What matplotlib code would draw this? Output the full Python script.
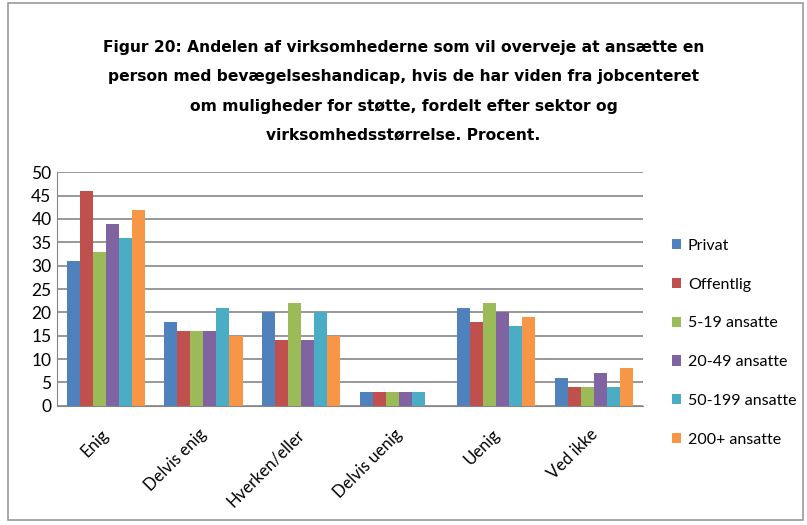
import matplotlib.pyplot as plt
import matplotlib.transforms as mtransforms
import numpy as np
from matplotlib.patches import Rectangle

categories = ["Enig", "Delvis enig", "Hverken/eller", "Delvis uenig", "Uenig", "Ved ikke"]
series_names = ["Privat", "Offentlig", "5-19 ansatte", "20-49 ansatte", "50-199 ansatte", "200+ ansatte"]
privat = [31, 18, 20, 3, 21, 6]
offentlig = [46, 16, 14, 3, 18, 4]
ans_5_19 = [33, 16, 22, 3, 22, 4]
ans_20_49 = [39, 16, 14, 3, 20, 7]
ans_50_199 = [36, 21, 20, 3, 17, 4]
ans_200 = [42, 15, 15, 0, 19, 8]
colors = ["#4F81BD", "#C0504D", "#9BBB59", "#8064A2", "#4BACC6", "#F79646"]

title = ("Figur 20: Andelen af virksomhederne som vil overveje at ansætte en\n"
         "person med bevægelseshandicap, hvis de har viden fra jobcenteret\n"
         "om muligheder for støtte, fordelt efter sektor og\n"
         "virksomhedsstørrelse. Procent.")

plt.rcParams['font.family'] = ['Lato', 'DejaVu Sans']

fig = plt.figure(figsize=(8.07, 5.25), dpi=100)
fig.patches.append(Rectangle((0.01, 0.01), 0.985, 0.985, transform=fig.transFigure,
                             fill=False, edgecolor="#9a9a9a", linewidth=1.2))

ax = fig.add_axes([0.0706, 0.227, 0.726, 0.445])
all_series = [privat, offentlig, ans_5_19, ans_20_49, ans_50_199, ans_200]
x = np.arange(len(categories))
w = 0.8 / len(all_series)
for i, (vals, name, col) in enumerate(zip(all_series, series_names, colors)):
    ax.bar(x - 0.4 + w * (i + 0.5), vals, width=w, color=col, label=name, zorder=3)

ax.set_xlim(-0.5, len(categories) - 0.5)
ax.set_ylim(0, 50)
ax.set_yticks(range(0, 51, 5))
ax.yaxis.grid(True, color="#868686", linewidth=1.2, zorder=0)
ax.set_xticks(x)
ax.set_xticklabels(categories, rotation=45, ha="right", rotation_mode="anchor", fontsize=12)
ax.tick_params(axis="x", length=0, pad=8)
ax.tick_params(axis="y", length=0, labelsize=12.5, pad=4)
shift = mtransforms.ScaledTranslation(-5 / 100, -9 / 100, fig.dpi_scale_trans)
for lbl in ax.get_xticklabels():
    lbl.set_transform(lbl.get_transform() + shift)
for s in ["top", "right"]:
    ax.spines[s].set_visible(False)
ax.spines["left"].set_color("#868686")
ax.spines["bottom"].set_color("#868686")

fig.text(0.5, 0.826, title, ha="center", va="center", fontsize=11.2, fontweight="bold",
         family="DejaVu Sans", linespacing=2.2)

ax.legend(loc="center left", bbox_to_anchor=(1.025, 0.27), frameon=False, fontsize=11.5,
          handlelength=0.6, handleheight=0.6, labelspacing=1.55, handletextpad=0.4)

fig.savefig("out.png", dpi=100)
